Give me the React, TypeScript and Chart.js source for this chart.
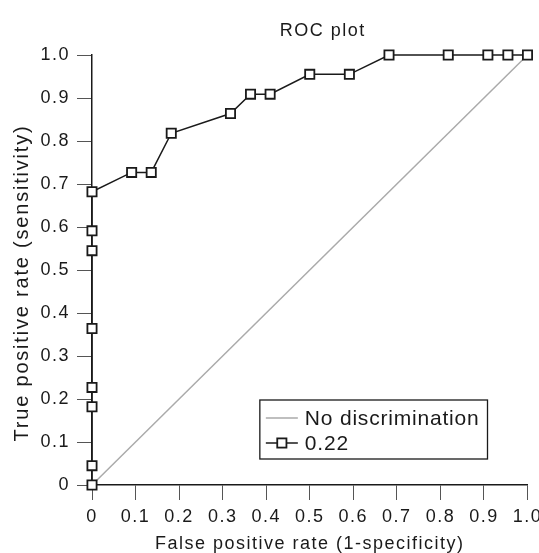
import React, { useEffect, useRef } from 'react';
import { Chart, registerables } from 'chart.js';

Chart.register(...registerables);

const FONT = '"Liberation Sans", Arial, Helvetica, sans-serif';
const INK = '#1a1a1a';

const titleText = 'ROC plot';
const xAxisTitle = 'False positive rate (1-specificity)';
const yAxisTitle = 'True positive rate (sensitivity)';
const seriesLabels = ['0.22', 'No discrimination'];

const rocFpr = [0, 0, 0, 0, 0, 0, 0, 0, 0.091, 0.136, 0.182, 0.318, 0.364, 0.409, 0.5, 0.591, 0.682, 0.818, 0.909, 0.955, 1.0];
const rocTpr = [0, 0.045, 0.182, 0.227, 0.364, 0.545, 0.591, 0.682, 0.727, 0.727, 0.818, 0.864, 0.909, 0.909, 0.955, 0.955, 1.0, 1.0, 1.0, 1.0, 1.0];
const diagFpr = [0, 1];
const diagTpr = [0, 1];
const tickLabels = ['0', '0.1', '0.2', '0.3', '0.4', '0.5', '0.6', '0.7', '0.8', '0.9', '1.0'];

const SPACING = '1.5px';

const spacingPlugin = {
  id: 'letterSpacingPlugin',
  beforeUpdate(chart: any) { chart.ctx.letterSpacing = SPACING; },
  beforeLayout(chart: any) { chart.ctx.letterSpacing = SPACING; },
  beforeDraw(chart: any) { chart.ctx.letterSpacing = SPACING; },
};

// Main title and y-axis title, drawn as canvas text
const titlesPlugin = {
  id: 'titlesPlugin',
  afterDraw(chart: any) {
    const { ctx, chartArea } = chart;
    ctx.save();
    ctx.fillStyle = INK;
    ctx.textAlign = 'center';
    ctx.textBaseline = 'middle';
    ctx.letterSpacing = '1.5px';
    ctx.font = `18px ${FONT}`;
    ctx.fillText(titleText, (chartArea.left + chartArea.right) / 2 + 13, chartArea.top - 24);
    ctx.restore();

    ctx.save();
    ctx.fillStyle = INK;
    ctx.textAlign = 'center';
    ctx.textBaseline = 'middle';
    ctx.letterSpacing = '1.8px';
    ctx.font = `20px ${FONT}`;
    ctx.translate(chartArea.left - 70, (chartArea.top + chartArea.bottom) / 2 + 13);
    ctx.rotate(-Math.PI / 2);
    ctx.fillText(yAxisTitle, 0, 0);
    ctx.restore();
  },
};

const boxLegendPlugin = {
  id: 'boxLegend',
  afterDraw(chart: any) {
    const { ctx, chartArea } = chart;
    const ds = chart.data.datasets;
    const items = [ds[1], ds[0]];
    ctx.save();
    ctx.letterSpacing = '0.8px';
    ctx.font = `21px ${FONT}`;
    const textW = Math.max(...items.map((d: any) => ctx.measureText(d.label).width));
    const padL = 6, sampleW = 32, gap = 7, padR = 8, rowH = 25, padT = 18;
    const w = padL + sampleW + gap + textW + padR;
    const h = 59;
    const right = chartArea.right - 40;
    const bottom = chartArea.bottom - 26;
    const left = right - w;
    const top = bottom - h;
    ctx.fillStyle = '#fff';
    ctx.fillRect(left, top, w, h);
    ctx.lineWidth = 1.3;
    ctx.strokeStyle = INK;
    ctx.strokeRect(left, top, w, h);
    items.forEach((d: any, i: number) => {
      const y = top + padT + i * rowH;
      ctx.beginPath();
      ctx.strokeStyle = d.borderColor;
      ctx.lineWidth = d.borderWidth;
      ctx.moveTo(left + padL, y);
      ctx.lineTo(left + padL + sampleW, y);
      ctx.stroke();
      if (d.pointRadius > 0) {
        const cx = left + padL + sampleW / 2;
        const s = d.pointRadius * Math.SQRT1_2;
        ctx.fillStyle = d.pointBackgroundColor;
        ctx.fillRect(cx - s, y - s, 2 * s, 2 * s);
        ctx.lineWidth = d.pointBorderWidth;
        ctx.strokeStyle = d.pointBorderColor;
        ctx.strokeRect(cx - s, y - s, 2 * s, 2 * s);
      }
      ctx.fillStyle = INK;
      ctx.textBaseline = 'middle';
      ctx.textAlign = 'left';
      ctx.fillText(d.label, left + padL + sampleW + gap, y + 1);
    });
    ctx.restore();
  },
};

export default function App() {
  const canvasRef = useRef<HTMLCanvasElement | null>(null);

  useEffect(() => {
    if (!canvasRef.current) return;
    const tickFont = { size: 18, family: FONT };
    const chart = new Chart(canvasRef.current, {
      type: 'line',
      data: {
        datasets: [
          {
            label: seriesLabels[0],
            data: rocFpr.map((x, i) => ({ x, y: rocTpr[i] })),
            borderColor: INK,
            borderWidth: 1.5,
            pointStyle: 'rect',
            pointRadius: 6.5,
            pointBorderWidth: 1.8,
            pointBackgroundColor: '#fff',
            pointBorderColor: INK,
            tension: 0,
            clip: false,
          },
          {
            label: seriesLabels[1],
            data: diagFpr.map((x, i) => ({ x, y: diagTpr[i] })),
            borderColor: '#aaa',
            borderWidth: 1.5,
            pointRadius: 0,
            tension: 0,
            clip: false,
          },
        ],
      },
      options: {
        responsive: false,
        animation: false,
        layout: { padding: { top: 55, left: 0, right: 0, bottom: 0 } },
        scales: {
          x: {
            type: 'linear',
            min: 0,
            max: 1,
            border: { display: true, color: INK, width: 1.5 },
            grid: { drawOnChartArea: false, drawTicks: true, tickLength: 15, color: '#555', lineWidth: 1 },
            ticks: {
              stepSize: 0.1,
              autoSkip: false,
              maxRotation: 0,
              padding: 6,
              color: INK,
              font: tickFont,
              callback: (_v: any, i: number) => tickLabels[i],
            },
            title: {
              display: true,
              text: xAxisTitle,
              color: INK,
              font: { size: 18, family: FONT, lineHeight: 1 },
              padding: { top: 0, bottom: 0 },
            },
            afterFit: (s: any) => {
              s.height = 68;
              s.paddingLeft = 0;
              s.paddingRight = 11.5;
            },
          },
          y: {
            type: 'linear',
            min: 0,
            max: 1,
            border: { display: true, color: INK, width: 1.5 },
            grid: { drawOnChartArea: false, drawTicks: true, tickLength: 15, color: '#555', lineWidth: 1 },
            ticks: {
              stepSize: 0.1,
              autoSkip: false,
              padding: 7,
              color: INK,
              font: tickFont,
              callback: (_v: any, i: number) => tickLabels[i],
            },
            title: { display: false },
            afterFit: (s: any) => {
              s.width = 92;
              s.paddingTop = 0;
              s.paddingBottom = 0;
            },
          },
        },
        plugins: {
          legend: { display: false },
          tooltip: { enabled: false },
          title: { display: false },
        },
      } as any,
      plugins: [spacingPlugin, titlesPlugin, boxLegendPlugin],
    });
    return () => chart.destroy();
  }, []);

  return (
    <div style={{ position: 'absolute', left: 0, top: 0, width: 539, height: 553, background: '#fff' }}>
      <canvas ref={canvasRef} width={539} height={553} style={{ display: 'block' }} />
    </div>
  );
}
